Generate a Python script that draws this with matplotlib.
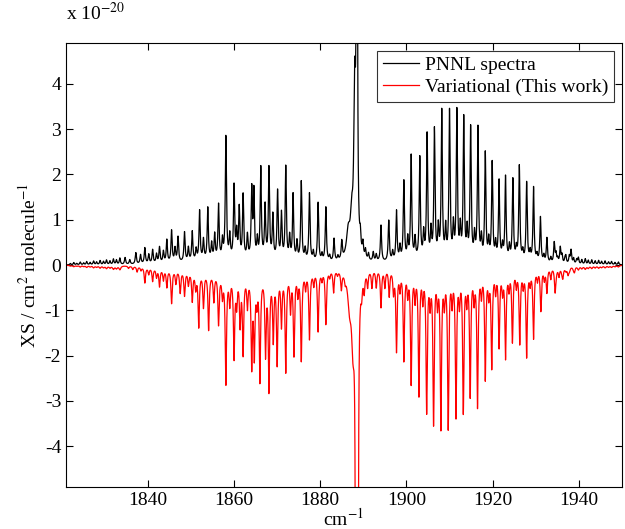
import numpy as np
import matplotlib
matplotlib.use("Agg")
import matplotlib.pyplot as plt

# cross sections in units of 1e-20 cm^2/molecule
# PNNL: line centres (cm^-1) and peak heights (P and R branches)
pnnl_pos = [1834.7, 1835.8, 1837.2, 1838.3, 1839.3, 1840.2, 1841.1, 1842.0, 1842.7, 1843.6,
            1844.4, 1845.5, 1846.3, 1847.0, 1848.5, 1849.4, 1850.3, 1851.2, 1852.0, 1852.9,
            1853.9, 1854.8, 1855.5, 1856.4, 1857.3, 1858.1, 1859.0, 1860.0, 1860.6, 1861.2,
            1862.1, 1863.1, 1864.1, 1864.6, 1865.4, 1866.2, 1867.2, 1868.1, 1869.0, 1870.1,
            1871.0, 1872.0, 1872.9, 1873.7, 1874.6, 1875.6, 1876.5, 1877.5, 1878.4, 1879.5,
            1880.4, 1881.3, 1882.2, 1883.2, 1884.1, 1885.0,
            1889.3, 1889.9, 1890.5, 1891.2, 1892.3, 1893.0, 1894.1, 1895.9, 1896.8, 1897.7,
            1898.5, 1899.4, 1900.3, 1901.1, 1902.0, 1903.1, 1904.0, 1904.8, 1905.7, 1906.5,
            1907.4, 1908.2, 1909.1, 1910.0, 1910.9, 1911.7, 1912.5, 1913.3, 1914.1, 1914.9,
            1915.8, 1916.6, 1917.4, 1918.3, 1919.1, 1919.9, 1920.7, 1921.5, 1922.3, 1923.0,
            1923.9, 1924.7, 1925.5, 1926.2, 1927.0, 1927.9, 1928.7, 1929.5, 1930.3, 1931.1,
            1931.9, 1932.6, 1933.5, 1934.3, 1935.1, 1935.7, 1936.8, 1938.2, 1939.5]
pnnl_int = [0.15, 0.1, 0.25, 0.2, 0.35, 0.2, 0.3, 0.2, 0.35, 0.25,
            0.5, 0.7, 0.3, 0.55, 0.65, 0.3, 0.65, 0.25, 1.1, 0.45,
            1.15, 0.35, 0.55, 1.2, 0.4, 2.7, 0.5, 1.6, 0.55, 1.1,
            1.4, 0.5, 1.5, 1.45, 0.4, 2.0, 1.15, 2.0, 0.95, 1.5,
            1.0, 2.05, 0.5, 1.45, 0.4, 1.75, 0.25, 1.5, 0.2, 1.3,
            0.15, 1.2, 0.12, 0.5, 0.1, 0.4,
            0.35, 0.3, 0.2, 0.15, 0.2, 0.15, 0.8, 0.9, 0.2, 1.1,
            0.3, 1.75, 0.45, 2.3, 0.45, 2.25, 0.55, 2.75, 0.6, 2.85,
            0.65, 3.25, 0.65, 3.25, 0.7, 3.25, 0.65, 3.1, 0.6, 2.9,
            0.5, 2.9, 0.45, 2.35, 0.4, 2.15, 0.35, 1.75, 0.3, 1.85,
            0.3, 1.8, 0.25, 2.1, 0.2, 1.75, 0.2, 1.65, 0.15, 1.0,
            0.15, 0.55, 0.12, 0.45, 0.1, 0.35, 0.1, 0.3, 0.1]

# PNNL Q branch: centres, heights and half widths
pnnl_q_pos = [1886.5, 1887.3, 1888.0, 1888.5]
pnnl_q_int = [0.6, 0.8, 3.5, 21.0]
pnnl_q_hw = [0.5, 0.35, 0.25, 0.1]

# variational (plotted downwards): line centres and depths
var_pos = [1835.5, 1836.5, 1837.5, 1838.4, 1839.3, 1840.2, 1841.1, 1842.0, 1842.7, 1843.6,
           1844.4, 1845.5, 1846.5, 1847.5, 1848.5, 1849.4, 1850.3, 1851.1, 1851.8, 1852.9,
           1854.1, 1855.3, 1856.4, 1857.3, 1858.1, 1859.0, 1860.0, 1860.6, 1861.4, 1862.1,
           1863.1, 1864.1, 1864.7, 1865.3, 1866.0, 1867.3, 1868.1, 1869.1, 1870.0, 1871.0,
           1872.0, 1873.1, 1873.9, 1874.8, 1875.6, 1876.6, 1877.5, 1878.5, 1879.5, 1880.4,
           1881.3, 1882.2, 1883.1, 1884.0, 1884.9, 1885.8,
           1889.6, 1890.2, 1891.0, 1892.0, 1893.0, 1894.1, 1895.0, 1896.0, 1897.0, 1897.7,
           1898.5, 1899.4, 1900.3, 1901.1, 1902.0, 1902.9, 1903.8, 1904.7, 1905.5, 1906.3,
           1907.2, 1908.0, 1908.8, 1909.7, 1910.6, 1911.5, 1912.3, 1913.2, 1914.0, 1914.8,
           1915.7, 1916.5, 1917.4, 1918.3, 1919.1, 1919.8, 1920.7, 1921.5, 1922.3, 1923.0,
           1923.8, 1924.6, 1925.5, 1926.3, 1927.1, 1927.9, 1928.7, 1929.5, 1930.4, 1931.2,
           1932.0, 1932.6, 1933.5, 1934.5, 1935.4, 1936.3, 1937.5, 1939.0]
var_int = [0.05, 0.07, 0.12, 0.08, 0.35, 0.15, 0.3, 0.2, 0.4, 0.25,
           0.4, 0.75, 0.3, 0.5, 0.55, 0.3, 0.65, 0.35, 1.2, 0.75,
           1.25, 0.6, 1.1, 0.45, 2.4, 0.6, 1.8, 0.6, 1.05, 1.7,
           0.65, 1.95, 1.7, 0.5, 2.3, 1.7, 2.5, 1.4, 1.95, 1.1,
           2.15, 0.8, 1.8, 0.45, 1.95, 0.35, 1.5, 0.3, 1.35, 0.2,
           1.2, 0.15, 0.5, 0.1, 0.4, 0.15,
           0.35, 0.4, 0.35, 0.4, 0.4, 0.85, 0.4, 0.6, 0.5, 1.8,
           0.4, 2.0, 0.5, 2.5, 0.6, 2.75, 0.6, 3.1, 0.65, 3.35,
           0.65, 3.45, 0.65, 3.45, 0.65, 3.2, 0.65, 3.1, 0.6, 2.75,
           0.6, 3.0, 0.5, 2.4, 0.5, 2.15, 0.45, 1.7, 0.45, 1.95,
           0.4, 1.6, 0.35, 1.65, 0.35, 1.95, 0.3, 1.55, 0.25, 0.95,
           0.25, 0.55, 0.25, 0.5, 0.2, 0.2, 0.15, 0.1]

# variational Q branch
var_q_pos = [1886.8, 1887.6, 1888.3, 1888.7]
var_q_int = [0.7, 1.4, 20.0, 20.0]
var_q_hw = [0.5, 0.4, 0.1, 0.1]

# broad underlying continuum (centre, height, width) for each branch
pnnl_base = [(1862.0, 0.1, 12.0), (1910.0, 0.08, 13.0)]
var_base = [(1862.0, 0.17, 12.0), (1910.0, 0.03, 13.0)]

# weak lines in the far wings
wing_pos = [1822.0, 1822.8, 1823.5, 1824.3, 1825.1, 1825.8, 1826.6, 1827.4, 1828.1, 1828.9,
            1829.7, 1830.4, 1831.2, 1832.0, 1832.7, 1833.5, 1934.7, 1936.1, 1937.0, 1937.8,
            1938.8, 1939.9, 1940.7, 1941.5, 1942.2, 1943.0, 1943.8, 1944.6, 1945.3, 1946.1,
            1946.9, 1947.6, 1948.4, 1949.2]
wing_int = [0.03, 0.05, 0.03, 0.06, 0.04, 0.07, 0.05, 0.08, 0.06, 0.09,
            0.07, 0.1, 0.08, 0.12, 0.1, 0.14, 0.2, 0.18, 0.15, 0.16,
            0.12, 0.14, 0.1, 0.12, 0.09, 0.1, 0.08, 0.09, 0.07, 0.08,
            0.06, 0.07, 0.05, 0.06]


def lorentz_sum(x, pos, amp, hw):
    hws = np.broadcast_to(hw, (len(pos),))
    y = np.zeros_like(x)
    for p, a, g in zip(pos, amp, hws):
        y += a * g**2 / ((x - p)**2 + g**2)
    return y


def continuum(x, humps):
    y = np.zeros_like(x)
    for c, h, w in humps:
        y += h * np.exp(-0.5 * ((x - c) / w)**2)
    return y


wn = np.linspace(1821, 1950, 8000)
pnnl = (lorentz_sum(wn, pnnl_pos, pnnl_int, 0.16)
        + lorentz_sum(wn, pnnl_q_pos, pnnl_q_int, pnnl_q_hw)
        + continuum(wn, pnnl_base)
        + lorentz_sum(wn, wing_pos, wing_int, 0.15))
var = -(lorentz_sum(wn, var_pos, var_int, 0.18)
        + lorentz_sum(wn, var_q_pos, var_q_int, var_q_hw)
        + continuum(wn, var_base)
        + lorentz_sum(wn, wing_pos, [0.6 * v for v in wing_int], 0.25))

plt.rcParams['font.family'] = ['Liberation Serif', 'DejaVu Serif']
plt.rcParams['axes.unicode_minus'] = False
plt.rcParams['mathtext.fontset'] = 'stix'

fig = plt.figure(figsize=(6.25, 5.29), dpi=100)
ax = fig.add_axes([0.1056, 0.0794, 0.8894, 0.8393])
ax.plot(wn, pnnl, color='k', lw=0.9, label='PNNL spectra')
ax.plot(wn, var, color='red', lw=0.9, label='Variational (This work)')

ax.set_xlim(1821, 1950)
ax.set_ylim(-4.9, 4.9)
ax.set_xticks([1840, 1860, 1880, 1900, 1920, 1940])
ax.set_yticks([-4, -3, -2, -1, 0, 1, 2, 3, 4])
ax.tick_params(direction='in', top=True, right=True, length=5, labelsize=14)
ax.set_xlabel('cm$^{-1}$', fontsize=14, labelpad=-1)
ax.set_ylabel('XS / cm$^{2}$ molecule$^{-1}$', fontsize=14, labelpad=4)
fig.text(0.1056, 0.955, 'x 10$^{-20}$', fontsize=14, ha='left', va='bottom')

leg = ax.legend(loc='upper right', fontsize=14, frameon=True, fancybox=False,
                edgecolor='k', borderpad=0.3, handlelength=1.85, handletextpad=0.3,
                labelspacing=0.2, borderaxespad=0.4)
leg.get_frame().set_linewidth(0.8)

fig.savefig('out.png', dpi=100)
